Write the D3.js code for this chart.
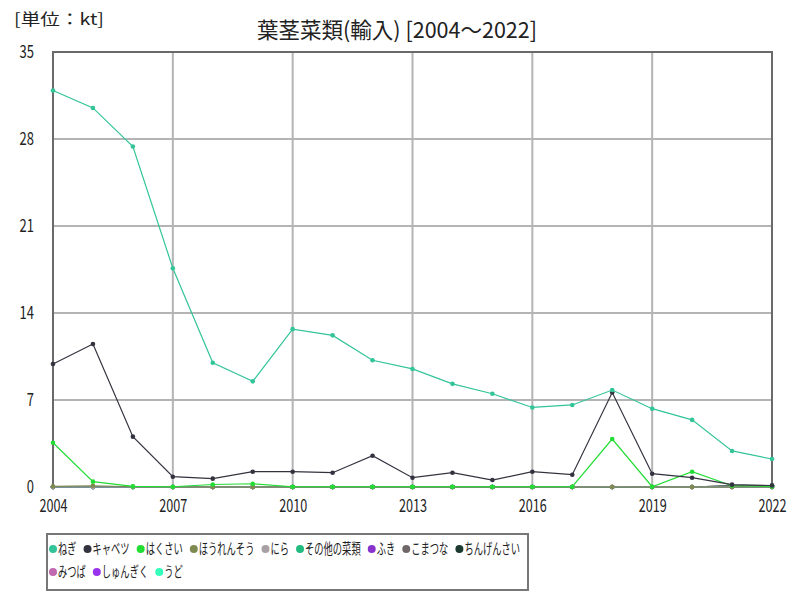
<!DOCTYPE html>
<html><head><meta charset="utf-8">
<script src="https://cdn.jsdelivr.net/npm/d3@7"></script>
<style>body{margin:0;background:#fff;} text{font-family:"Noto Sans CJK JP","Noto Sans",sans-serif;}</style>
</head><body><svg id="c" width="800" height="600"></svg>
<script>
const years = [2004,2005,2006,2007,2008,2009,2010,2011,2012,2013,2014,2015,2016,2017,2018,2019,2020,2021,2022];
const seriesNames = ["ねぎ","キャベツ","はくさい","ほうれんそう","にら","その他の菜類","ふき","こまつな","ちんげんさい","みつば","しゅんぎく","うど"];
const seriesColors = ["#33c499","#333340","#22dd33","#7f8a50","#a8a0a4","#22bb80","#8833cc","#706868","#1a3a30","#c068b0","#9933ee","#33ffbb"];
const negi     = [31.9,30.5,27.4,17.6,10.0,8.5,12.7,12.2,10.2,9.5,8.3,7.5,6.4,6.6,7.8,6.3,5.4,2.9,2.25];
const cabbage  = [9.9,11.5,4.05,0.83,0.67,1.23,1.23,1.15,2.52,0.75,1.15,0.56,1.23,0.99,7.6,1.07,0.75,0.19,0.12];
const hakusai  = [3.56,0.43,0.05,0.02,0.2,0.26,0.02,0.02,0.02,0.02,0.02,0.02,0.02,0.02,3.86,0.02,1.23,0.1,0.05];
const horenso  = [0.05,0.1,0.02,0.0,0.0,0.0,0.0,0.0,0.0,0.0,0.0,0.0,0.0,0.0,0.0,0.0,0.0,0.0,0.0];
const nira     = [0.0,0.0,0.0,0.0,0.0,0.0,0.0,0.0,0.0,0.0,0.0,0.0,0.0,0.0,0.02,0.0,0.0,0.0,0.0];
const sonota   = [0.0,0.0,0.0,0.0,0.0,0.0,0.0,0.0,0.0,0.0,0.0,0.0,0.0,0.0,0.0,0.0,0.0,0.0,0.0];
const fuki     = [0.0,0.0,0.0,0.0,0.0,0.0,0.0,0.0,0.0,0.0,0.0,0.0,0.0,0.0,0.0,0.0,0.0,0.0,0.0];
const komatsuna= [0.0,0.0,0.0,0.0,0.0,0.0,0.0,0.0,0.0,0.0,0.0,0.0,0.0,0.0,0.0,0.0,0.0,0.12,0.12];
const chingen  = [0.0,0.0,0.0,0.0,0.0,0.0,0.0,0.0,0.0,0.0,0.0,0.0,0.0,0.0,0.0,0.0,0.0,0.12,0.12];
const mitsuba  = [0.0,0.0,0.0,0.0,0.0,0.0,0.0,0.0,0.0,0.0,0.0,0.0,0.0,0.0,0.0,0.0,0.0,0.0,0.0];
const shungiku = [0.0,0.0,0.0,0.0,0.0,0.0,0.0,0.0,0.0,0.0,0.0,0.0,0.0,0.0,0.0,0.0,0.0,0.0,0.0];
const udo      = [0.0,0.0,0.0,0.0,0.0,0.0,0.0,0.0,0.0,0.0,0.0,0.0,0.0,0.0,0.0,0.0,0.0,0.0,0.0];
const seriesValues = [negi,cabbage,hakusai,horenso,nira,sonota,fuki,komatsuna,chingen,mitsuba,shungiku,udo];
const xTicks = [2004,2007,2010,2013,2016,2019,2022];
const yTicks = [0,7,14,21,28,35];
const titleText = "葉茎菜類(輸入) [2004～2022]";
const unitText = "[単位：kt]";

const svg = d3.select("#c");
const L=53,R=772,T=52,B=487;
const x = d3.scaleLinear().domain([2004,2022]).range([L,R]);
const y = d3.scaleLinear().domain([0,35]).range([B,T]);

// grid
const g = svg.append("g");
g.selectAll(".gx").data(xTicks).enter().append("line")
  .attr("x1",d=>x(d)).attr("x2",d=>x(d)).attr("y1",T).attr("y2",B)
  .attr("stroke","#b4b4b4").attr("stroke-width",2);
g.selectAll(".gy").data(yTicks).enter().append("line")
  .attr("x1",L).attr("x2",R).attr("y1",d=>y(d)).attr("y2",d=>y(d))
  .attr("stroke","#b4b4b4").attr("stroke-width",2);
// frame
svg.append("rect").attr("x",L).attr("y",T).attr("width",R-L).attr("height",B-T)
  .attr("fill","none").attr("stroke","#6a6a6a").attr("stroke-width",2);

// axes labels
const ax = d3.axisBottom(x).tickValues(xTicks).tickFormat(d3.format("d")).tickSize(0).tickPadding(12);
const axg = svg.append("g").attr("transform",`translate(0,${B})`).call(ax);
axg.select(".domain").remove();
axg.selectAll("text").attr("font-size",18).attr("fill","#222")
  .attr("textLength",d=>String(d).length*7).attr("lengthAdjust","spacingAndGlyphs");
const ay = d3.axisLeft(y).tickValues(yTicks).tickSize(0).tickPadding(19);
const ayg = svg.append("g").attr("transform",`translate(${L},0)`).call(ay);
ayg.select(".domain").remove();
ayg.selectAll("text").attr("font-size",18).attr("fill","#222")
  .attr("textLength",d=>String(d).length*7.2).attr("lengthAdjust","spacingAndGlyphs");

// lines (draw in reverse so first series on top)
const line = d3.line().x((d,i)=>x(years[i])).y(d=>y(d));
const order = d3.range(seriesNames.length).reverse();
order.forEach(k=>{
  const vals = seriesValues[k];
  svg.append("path").datum(vals).attr("d",line).attr("fill","none")
    .attr("stroke",seriesColors[k]).attr("stroke-width",1.2);
  svg.append("g").selectAll("circle").data(vals).enter().append("circle")
    .attr("cx",(d,i)=>x(years[i])).attr("cy",d=>y(d)).attr("r",2.3)
    .attr("fill",seriesColors[k]);
});

// title
svg.append("text").attr("x",397).attr("y",38).attr("text-anchor","middle")
  .attr("font-size",22).attr("fill","#222").attr("textLength",280).attr("lengthAdjust","spacingAndGlyphs").text(titleText);
svg.append("text").attr("x",14).attr("y",25).attr("font-size",16).attr("fill","#222")
  .attr("textLength",90).attr("lengthAdjust","spacingAndGlyphs").text(unitText);

// legend
const lg = svg.append("g");
lg.append("rect").attr("x",47).attr("y",534).attr("width",481).attr("height",56)
  .attr("fill","#fff").attr("stroke","#777").attr("stroke-width",2);
const fs = 14.5, sx = 0.64;
let lx=53, ly=549;
seriesNames.forEach((n,k)=>{
  const w = n.length*fs*sx;
  if (lx + 6 + w > 526) { lx = 53; ly += 23; }
  lg.append("circle").attr("cx",lx).attr("cy",ly).attr("r",4).attr("fill",seriesColors[k]);
  lg.append("g").attr("transform",`translate(${lx+5},${ly+5}) scale(${sx},1)`)
    .append("text").attr("font-size",fs).attr("fill","#222").attr("x",0).attr("y",0).text(n);
  lx += 16 + w;
});
</script></body></html>
